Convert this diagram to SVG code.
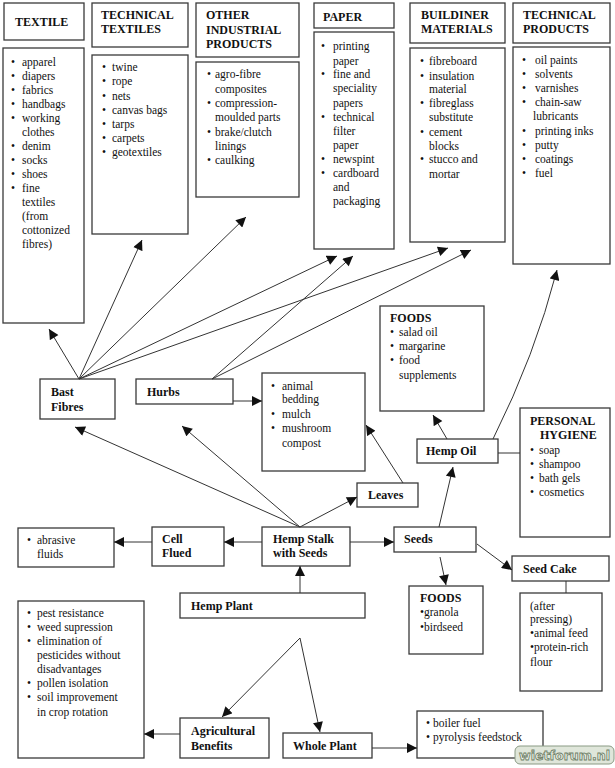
<svg xmlns="http://www.w3.org/2000/svg" width="615" height="768" viewBox="0 0 615 768">
<style>
  .box{fill:#fff;stroke:#3a3a3a;stroke-width:1.3}
  .t{font-family:"Liberation Serif","Times New Roman",serif;font-size:11.5px;fill:#111}
  .b{font-family:"Liberation Serif","Times New Roman",serif;font-size:12px;font-weight:bold;fill:#111}
  .c line,.c path{stroke:#333;stroke-width:1;fill:none}
  .wm{font-family:"DejaVu Sans",sans-serif;font-size:12px;font-weight:bold;fill:#eef3ea;stroke:#6f8068;stroke-width:0.8}
</style>
<defs>
  <marker id="ar" viewBox="0 0 10 10" refX="10" refY="5" markerWidth="11" markerHeight="10" markerUnits="userSpaceOnUse" orient="auto">
    <path d="M0,0 L10,5 L0,10 Z" fill="#111"/>
  </marker>
</defs>
<rect width="615" height="768" fill="#fff"/>

<!-- Top headers and lists -->
<g id="textile">
  <rect class="box" x="4" y="3" width="80" height="37"/>
  <text class="b" x="15" y="26">TEXTILE</text>
</g>
<g id="textile-list">
  <rect class="box" x="3" y="48" width="81" height="275"/>
  <g class="t">
    <text x="11" y="66">•</text><text x="22" y="66">apparel</text>
    <text x="11" y="80">•</text><text x="22" y="80">diapers</text>
    <text x="11" y="94">•</text><text x="22" y="94">fabrics</text>
    <text x="11" y="108">•</text><text x="22" y="108">handbags</text>
    <text x="11" y="122">•</text><text x="22" y="122">working</text>
    <text x="22" y="136">clothes</text>
    <text x="11" y="150">•</text><text x="22" y="150">denim</text>
    <text x="11" y="164">•</text><text x="22" y="164">socks</text>
    <text x="11" y="178">•</text><text x="22" y="178">shoes</text>
    <text x="11" y="192">•</text><text x="22" y="192">fine</text>
    <text x="22" y="206">textiles</text>
    <text x="22" y="220">(from</text>
    <text x="22" y="234">cottonized</text>
    <text x="22" y="248">fibres)</text>
  </g>
</g>

<g id="tech-textiles">
  <rect class="box" x="92" y="3" width="96" height="44"/>
  <text class="b" x="101" y="19">TECHNICAL</text>
  <text class="b" x="101" y="33">TEXTILES</text>
</g>
<g id="tech-textiles-list">
  <rect class="box" x="92" y="55" width="96" height="179"/>
  <g class="t">
    <text x="102" y="71">•</text><text x="112" y="71">twine</text>
    <text x="102" y="85">•</text><text x="112" y="85">rope</text>
    <text x="102" y="100">•</text><text x="112" y="100">nets</text>
    <text x="102" y="114">•</text><text x="112" y="114">canvas bags</text>
    <text x="102" y="128">•</text><text x="112" y="128">tarps</text>
    <text x="102" y="142">•</text><text x="112" y="142">carpets</text>
    <text x="102" y="156">•</text><text x="112" y="156">geotextiles</text>
  </g>
</g>

<g id="other-industrial">
  <rect class="box" x="196" y="3" width="103" height="54"/>
  <text class="b" x="206" y="19">OTHER</text>
  <text class="b" x="206" y="34">INDUSTRIAL</text>
  <text class="b" x="206" y="48">PRODUCTS</text>
</g>
<g id="other-industrial-list">
  <rect class="box" x="196" y="62" width="103" height="135"/>
  <g class="t">
    <text x="207" y="78">•</text><text x="215" y="78">agro-fibre</text>
    <text x="215" y="93">composites</text>
    <text x="207" y="107">•</text><text x="215" y="107">compression-</text>
    <text x="215" y="121">moulded parts</text>
    <text x="207" y="136">•</text><text x="215" y="136">brake/clutch</text>
    <text x="215" y="150">linings</text>
    <text x="207" y="164">•</text><text x="215" y="164">caulking</text>
  </g>
</g>

<g id="paper">
  <rect class="box" x="314" y="3" width="80" height="25"/>
  <text class="b" x="323" y="21">PAPER</text>
</g>
<g id="paper-list">
  <rect class="box" x="314" y="32" width="80" height="217"/>
  <g class="t">
    <text x="321" y="50">•</text><text x="333" y="50">printing</text>
    <text x="333" y="65">paper</text>
    <text x="321" y="78">•</text><text x="333" y="78">fine and</text>
    <text x="333" y="92">speciality</text>
    <text x="333" y="107">papers</text>
    <text x="321" y="121">•</text><text x="333" y="121">technical</text>
    <text x="333" y="135">filter</text>
    <text x="333" y="149">paper</text>
    <text x="321" y="163">•</text><text x="333" y="163">newspint</text>
    <text x="321" y="177">•</text><text x="333" y="177">cardboard</text>
    <text x="333" y="191">and</text>
    <text x="333" y="205">packaging</text>
  </g>
</g>

<g id="building">
  <rect class="box" x="410" y="3" width="95" height="40"/>
  <text class="b" x="421" y="19">BUILDINER</text>
  <text class="b" x="421" y="33">MATERIALS</text>
</g>
<g id="building-list">
  <rect class="box" x="410" y="48" width="95" height="194"/>
  <g class="t">
    <text x="420" y="65">•</text><text x="429" y="65">fibreboard</text>
    <text x="420" y="80">•</text><text x="429" y="80">insulation</text>
    <text x="429" y="93">material</text>
    <text x="420" y="107">•</text><text x="429" y="107">fibreglass</text>
    <text x="429" y="121">substitute</text>
    <text x="420" y="136">•</text><text x="429" y="136">cement</text>
    <text x="429" y="150">blocks</text>
    <text x="420" y="163">•</text><text x="429" y="163">stucco and</text>
    <text x="429" y="178">mortar</text>
  </g>
</g>

<g id="tech-products">
  <rect class="box" x="513" y="3" width="97" height="40"/>
  <text class="b" x="523" y="19">TECHNICAL</text>
  <text class="b" x="523" y="33">PRODUCTS</text>
</g>
<g id="tech-products-list">
  <rect class="box" x="513" y="47" width="97" height="217"/>
  <g class="t">
    <text x="522" y="64">•</text><text x="535" y="64">oil paints</text>
    <text x="522" y="78">•</text><text x="535" y="78">solvents</text>
    <text x="522" y="92">•</text><text x="535" y="92">varnishes</text>
    <text x="522" y="106">•</text><text x="535" y="106">chain-saw</text>
    <text x="533" y="120">lubricants</text>
    <text x="522" y="135">•</text><text x="535" y="135">printing inks</text>
    <text x="522" y="149">•</text><text x="535" y="149">putty</text>
    <text x="522" y="163">•</text><text x="535" y="163">coatings</text>
    <text x="522" y="177">•</text><text x="535" y="177">fuel</text>
  </g>
</g>

<!-- Middle nodes -->
<g id="bast-fibres">
  <rect class="box" x="40" y="379" width="75" height="40"/>
  <text class="b" x="51" y="396">Bast</text>
  <text class="b" x="51" y="411">Fibres</text>
</g>
<g id="hurbs">
  <rect class="box" x="136" y="379" width="97" height="25"/>
  <text class="b" x="147" y="396">Hurbs</text>
</g>
<g id="bedding">
  <rect class="box" x="262" y="373" width="103" height="98"/>
  <g class="t">
    <text x="271" y="390">•</text><text x="282" y="390">animal</text>
    <text x="282" y="403">bedding</text>
    <text x="271" y="418">•</text><text x="282" y="418">mulch</text>
    <text x="271" y="432">•</text><text x="282" y="432">mushroom</text>
    <text x="282" y="447">compost</text>
  </g>
</g>
<g id="foods-oil">
  <rect class="box" x="380" y="306" width="104" height="105"/>
  <text class="b" x="390" y="322">FOODS</text>
  <g class="t">
    <text x="390" y="336">•</text><text x="399" y="336">salad oil</text>
    <text x="390" y="350">•</text><text x="399" y="350">margarine</text>
    <text x="390" y="364">•</text><text x="399" y="364">food</text>
    <text x="399" y="379">supplements</text>
  </g>
</g>
<g id="hemp-oil">
  <rect class="box" x="417" y="439" width="81" height="24"/>
  <text class="b" x="426" y="455">Hemp Oil</text>
</g>
<g id="personal-hygiene">
  <rect class="box" x="520" y="408" width="90" height="129"/>
  <text class="b" x="530" y="425">PERSONAL</text>
  <text class="b" x="540" y="439">HYGIENE</text>
  <g class="t">
    <text x="530" y="454">•</text><text x="539" y="454">soap</text>
    <text x="530" y="468">•</text><text x="539" y="468">shampoo</text>
    <text x="530" y="482">•</text><text x="539" y="482">bath gels</text>
    <text x="530" y="496">•</text><text x="539" y="496">cosmetics</text>
  </g>
</g>
<g id="leaves">
  <rect class="box" x="357" y="483" width="61" height="24"/>
  <text class="b" x="368" y="499">Leaves</text>
</g>
<g id="hemp-stalk">
  <rect class="box" x="262" y="527" width="88" height="39"/>
  <text class="b" x="273" y="543">Hemp Stalk</text>
  <text class="b" x="273" y="557">with Seeds</text>
</g>
<g id="seeds">
  <rect class="box" x="394" y="527" width="82" height="25"/>
  <text class="b" x="404" y="543">Seeds</text>
</g>
<g id="cell-flued">
  <rect class="box" x="152" y="527" width="72" height="39"/>
  <text class="b" x="162" y="543">Cell</text>
  <text class="b" x="162" y="557">Flued</text>
</g>
<g id="abrasive">
  <rect class="box" x="18" y="528" width="96" height="39"/>
  <g class="t">
    <text x="27" y="544">•</text><text x="37" y="544">abrasive</text>
    <text x="37" y="558">fluids</text>
  </g>
</g>
<g id="seed-cake">
  <rect class="box" x="512" y="556" width="97" height="25"/>
  <text class="b" x="523" y="573">Seed Cake</text>
</g>
<g id="after-pressing">
  <rect class="box" x="520" y="593" width="82" height="98"/>
  <g class="t">
    <text x="530" y="610">(after</text>
    <text x="530" y="623">pressing)</text>
    <text x="530" y="637">•animal feed</text>
    <text x="530" y="651">•protein-rich</text>
    <text x="530" y="666">flour</text>
  </g>
</g>
<g id="foods-seeds">
  <rect class="box" x="409" y="586" width="74" height="68"/>
  <text class="b" x="420" y="602">FOODS</text>
  <g class="t">
    <text x="420" y="616">•granola</text>
    <text x="420" y="631">•birdseed</text>
  </g>
</g>
<g id="hemp-plant">
  <rect class="box" x="180" y="593" width="185" height="25"/>
  <text class="b" x="191" y="610">Hemp Plant</text>
</g>
<g id="agri-list">
  <rect class="box" x="18" y="601" width="126" height="157"/>
  <g class="t">
    <text x="27" y="617">•</text><text x="37" y="617">pest resistance</text>
    <text x="27" y="631">•</text><text x="37" y="631">weed supression</text>
    <text x="27" y="645">•</text><text x="37" y="645">elimination of</text>
    <text x="37" y="659">pesticides without</text>
    <text x="37" y="673">disadvantages</text>
    <text x="27" y="687">•</text><text x="37" y="687">pollen isolation</text>
    <text x="27" y="701">•</text><text x="37" y="701">soil improvement</text>
    <text x="37" y="716">in crop rotation</text>
  </g>
</g>
<g id="agri-benefits">
  <rect class="box" x="180" y="718" width="89" height="40"/>
  <text class="b" x="191" y="735">Agricultural</text>
  <text class="b" x="191" y="750">Benefits</text>
</g>
<g id="whole-plant">
  <rect class="box" x="283" y="733" width="89" height="25"/>
  <text class="b" x="293" y="750">Whole Plant</text>
</g>
<g id="fuel">
  <rect class="box" x="417" y="711" width="126" height="47"/>
  <g class="t">
    <text x="426" y="727">•</text><text x="433" y="727">boiler fuel</text>
    <text x="426" y="741">•</text><text x="433" y="741">pyrolysis feedstock</text>
  </g>
</g>

<!-- Connectors -->
<g id="connectors" class="c">
  <line x1="79" y1="379" x2="49" y2="329" marker-end="url(#ar)"/>
  <line x1="79" y1="379" x2="142" y2="240" marker-end="url(#ar)"/>
  <line x1="79" y1="379" x2="246" y2="217" marker-end="url(#ar)"/>
  <line x1="79" y1="379" x2="337" y2="256" marker-end="url(#ar)"/>
  <line x1="79" y1="379" x2="448" y2="248" marker-end="url(#ar)"/>
  <line x1="212" y1="379" x2="353" y2="256" marker-end="url(#ar)"/>
  <line x1="212" y1="379" x2="471" y2="250" marker-end="url(#ar)"/>
  <line x1="233" y1="401" x2="262" y2="401" marker-end="url(#ar)"/>
  <line x1="300" y1="527" x2="75" y2="427" marker-end="url(#ar)"/>
  <line x1="300" y1="527" x2="182" y2="426" marker-end="url(#ar)"/>
  <line x1="300" y1="527" x2="357" y2="497" marker-end="url(#ar)"/>
  <line x1="403" y1="483" x2="366" y2="425" marker-end="url(#ar)"/>
  <line x1="447" y1="439" x2="433" y2="415" marker-end="url(#ar)"/>
  <path d="M493,439 Q535,355 557,270" marker-end="url(#ar)"/>
  <line x1="498" y1="453" x2="520" y2="453"/>
  <line x1="439" y1="527" x2="453" y2="467" marker-end="url(#ar)"/>
  <line x1="350" y1="542" x2="394" y2="542" marker-end="url(#ar)"/>
  <line x1="477" y1="544" x2="512" y2="570" marker-end="url(#ar)"/>
  <line x1="440" y1="557" x2="446" y2="585" marker-end="url(#ar)"/>
  <line x1="566" y1="581" x2="566" y2="593"/>
  <line x1="262" y1="542" x2="224" y2="542" marker-end="url(#ar)"/>
  <line x1="152" y1="542" x2="114" y2="542" marker-end="url(#ar)"/>
  <line x1="300" y1="593" x2="300" y2="566" marker-end="url(#ar)"/>
  <line x1="300" y1="638" x2="222" y2="717" marker-end="url(#ar)"/>
  <line x1="300" y1="638" x2="320" y2="732" marker-end="url(#ar)"/>
  <line x1="180" y1="734" x2="144" y2="734" marker-end="url(#ar)"/>
  <line x1="372" y1="748" x2="417" y2="748" marker-end="url(#ar)"/>
</g>

<g id="watermark">
  <rect x="515" y="746" width="99" height="18" rx="5" fill="#dfe6da" stroke="#8a9a84" stroke-width="1"/>
  <text class="wm" x="519" y="760" textLength="91" lengthAdjust="spacingAndGlyphs">wietforum.nl</text>
</g>
</svg>
